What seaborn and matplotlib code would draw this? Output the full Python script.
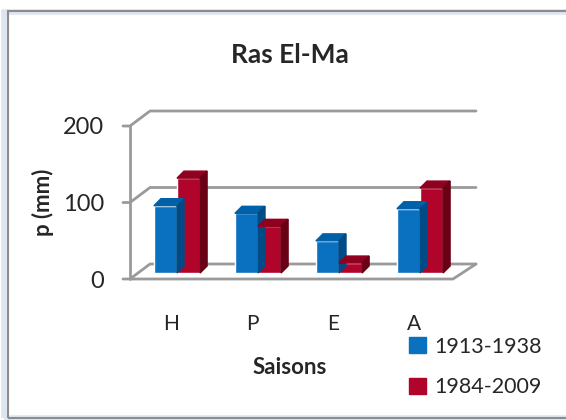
import numpy as np
import pandas as pd
import matplotlib.pyplot as plt
import matplotlib.patches as mpatches
from matplotlib.patches import Polygon
import seaborn as sns

# data
saisons = ["H", "P", "E", "A"]
periode_1 = [88, 78, 42, 84]      # 1913-1938
periode_2 = [124, 61, 13, 111]    # 1984-2009
periodes = ["1913-1938", "1984-2009"]
yticks = [0, 100, 200]

df = pd.DataFrame({
    "Saison": saisons * 2,
    "Periode": [periodes[0]] * 4 + [periodes[1]] * 4,
    "P": periode_1 + periode_2,
})

sns.set_style("white")
plt.rcParams["font.family"] = ["Lato", "DejaVu Sans"]

W, H = 566, 420
fig = plt.figure(figsize=(W / 100, H / 100), dpi=100)

# pixel helpers (top-left origin)
def fx(px):
    return px / W

def fy(py):
    return 1 - py / H

# outer chart frame with soft shadow
fig.patches.append(mpatches.Rectangle((fx(4), fy(418)), fx(570), fy(12) - fy(418),
                                      transform=fig.transFigure, fill=False,
                                      edgecolor="#dde6f0", lw=4))
fig.patches.append(mpatches.Rectangle((fx(8), fy(418)), fx(570), fy(11) - fy(418),
                                      transform=fig.transFigure, fill=False,
                                      edgecolor="#8c8c8c", lw=1.5))

# axes box in pixels, mapped to bar-plane data units
L, R, T, B = 110, 490, 100, 290
x0, xs = 177, 81.0      # pixel of first category, pixels per category
y0, ys = 273, 0.765     # pixel of zero, pixels per unit
ax = fig.add_axes([fx(L), fy(B), fx(R) - fx(L), fy(T) - fy(B)])
ax.patch.set_alpha(0)

blue, red = "#0a70c0", "#b0042a"
sns.barplot(data=df, x="Saison", y="P", hue="Periode", order=saisons,
            palette=[blue, red], width=0.57, saturation=1, ax=ax,
            legend=False, zorder=3)
ax.set_xlim((L - x0) / xs, (R - x0) / xs)
ax.set_ylim((y0 - B) / ys, (y0 - T) / ys)
sns.despine(ax=ax, left=True, bottom=True)

# 3D frame: front plane, back wall
grey = "#9a9a9a"
front_x, back_x = (130 - x0) / xs, (150 - x0) / xs
right_front, right_back = (453 - x0) / xs, (476 - x0) / xs
front_dy, back_dy = -(279 - y0) / ys, (y0 - 264) / ys
tick_x = (123 - x0) / xs
for v in yticks:
    ax.plot([tick_x, front_x, back_x, right_back],
            [v + front_dy, v + front_dy, v + back_dy, v + back_dy],
            color=grey, lw=2, clip_on=False, zorder=1)
ax.plot([front_x, front_x], [front_dy, yticks[-1] + front_dy],
        color=grey, lw=2, clip_on=False, zorder=1)
ax.plot([front_x, right_front, right_back],
        [front_dy, front_dy, back_dy], color=grey, lw=2, clip_on=False, zorder=1)

# bar depth faces derived from the seaborn bars
ddx, ddy = 7 / xs, 7 / ys
shade = {blue: ("#0060a8", "#004b85"), red: ("#90001f", "#6a0015")}
bars = [p for p in ax.patches if isinstance(p, mpatches.Rectangle)]
for k, bar in enumerate(bars):
    bx, bw, bh = bar.get_x(), bar.get_width(), bar.get_height()
    top_c, side_c = shade[blue if k < len(saisons) else red]
    ax.add_patch(Polygon([(bx, bh), (bx + bw, bh), (bx + bw + ddx, bh + ddy),
                          (bx + ddx, bh + ddy)], closed=True, color=top_c,
                         zorder=3, clip_on=False))
    ax.add_patch(Polygon([(bx + bw, 0), (bx + bw + ddx, ddy),
                          (bx + bw + ddx, bh + ddy), (bx + bw, bh)], closed=True,
                         color=side_c, zorder=3, clip_on=False))

ax.set_yticks([v + front_dy for v in yticks], [str(v) for v in yticks], fontsize=17)
ax.set_xticks([i - 6 / xs for i in range(len(saisons))], saisons, fontsize=15)
ax.tick_params(axis="y", length=0, pad=4)
ax.tick_params(axis="x", length=0, pad=17)
ax.set_xlabel("")
ax.set_ylabel("")

fig.text(fx(290), fy(55), "Ras El-Ma", ha="center", va="center",
         fontsize=19, fontweight="bold")
fig.text(fx(43), fy(202), "p (mm)", ha="center", va="center", rotation=90,
         fontsize=16, fontweight="bold")
fig.text(fx(290), fy(368), "Saisons", ha="center", va="center",
         fontsize=16, fontweight="bold")

handles = [mpatches.Patch(color=c, label=l) for c, l in zip([blue, red], periodes)]
fig.legend(handles=handles, loc="center left", bbox_to_anchor=(fx(390), fy(367)),
           frameon=False, fontsize=15.5, handlelength=0.75, handleheight=0.75,
           handletextpad=0.4, labelspacing=0.95)

fig.savefig("out.png", dpi=100)
